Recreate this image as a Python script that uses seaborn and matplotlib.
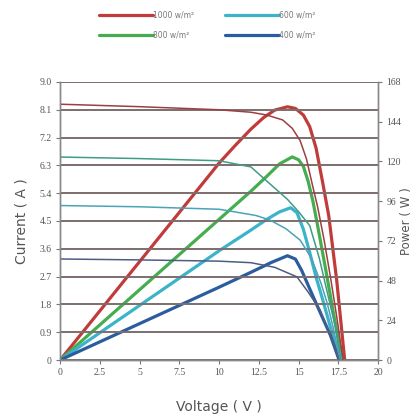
import numpy as np
import pandas as pd
import matplotlib
matplotlib.use("Agg")
import matplotlib.pyplot as plt
from matplotlib.lines import Line2D
import seaborn as sns

# Irradiance levels
levels = ["1000 w/m²", "800 w/m²", "600 w/m²", "400 w/m²"]

# I-V curves (left axis, A)
v_i_1000 = [0, 5, 10, 12, 13, 14, 14.6, 15.1, 15.5, 15.9, 16.2, 16.6, 17.0, 17.4, 17.8]
i_1000 = [8.28, 8.2, 8.1, 8.02, 7.93, 7.77, 7.5, 7.1, 6.5, 5.6, 4.95, 3.9, 2.7, 1.4, 0]
v_i_800 = [0, 5, 10, 12, 13.2, 14.3, 15.0, 15.7, 16.3, 16.8, 17.3, 17.65]
i_800 = [6.57, 6.52, 6.45, 6.25, 5.7, 5.2, 4.8, 4.35, 3.3, 2.2, 1.1, 0]
v_i_600 = [0, 5, 10, 12.3, 13.2, 14.2, 15.1, 15.8, 16.4, 16.8, 17.2, 17.6]
i_600 = [5.0, 4.96, 4.88, 4.68, 4.53, 4.25, 3.88, 3.3, 2.5, 1.84, 1.0, 0]
v_i_400 = [0, 5, 10, 12, 13.5, 14.9, 15.6, 16.35, 17.0, 17.55]
i_400 = [3.27, 3.24, 3.2, 3.15, 3.0, 2.69, 2.2, 1.62, 0.8, 0]

# P-V curves (right axis, W)
v_p_1000 = [0, 5, 10, 11, 12, 12.8, 13.5, 14.3, 14.8, 15.3, 15.7, 16.1, 16.5, 16.9, 17.4, 17.9]
p_1000 = [0, 59.5, 119, 129.5, 139.5, 146.5, 151, 153, 152, 148, 141, 128, 108, 87, 48, 0]
v_p_800 = [0, 5, 10, 12, 13.0, 13.8, 14.6, 15.0, 15.3, 15.6, 15.9, 16.2, 16.7, 17.2, 17.75]
p_800 = [0, 42.5, 85, 102, 111, 118.5, 122.7, 121, 117, 108, 96, 81, 55, 28, 0]
v_p_600 = [0, 5, 10, 12, 13.0, 13.8, 14.5, 14.9, 15.3, 15.7, 16.1, 16.5, 17.0, 17.7]
p_600 = [0, 33, 66, 78.5, 85, 89.5, 92, 89, 79, 65, 50, 37, 20, 0]
v_p_400 = [0, 5, 10, 12, 13.3, 14.3, 14.8, 15.2, 15.7, 16.3, 17.0, 17.55]
p_400 = [0, 22, 44, 53, 59, 63, 61, 54, 43, 30, 15, 0]

x_ticks = [0, 2.5, 5, 7.5, 10, 12.5, 15, 17.5, 20]
x_labels = ["0", "2.5", "5", "7.5", "10", "12.5", "15", "17.5", "20"]
i_ticks = [0, 0.9, 1.8, 2.7, 3.6, 4.5, 5.4, 6.3, 7.2, 8.1, 9.0]
i_labels = ["0", "0.9", "1.8", "2.7", "3.6", "4.5", "5.4", "6.3", "7.2", "8.1", "9.0"]
p_ticks = [0, 24, 48, 72, 96, 120, 144, 168]

p_colors = ["#c23b3b", "#45ad4f", "#3bb3c9", "#2b5d9e"]
i_colors = ["#9c3f42", "#3f9c86", "#4aa3b8", "#4d5d82"]

iv = pd.concat([
    pd.DataFrame({"V": v, "I": i, "level": lv})
    for v, i, lv in zip([v_i_1000, v_i_800, v_i_600, v_i_400],
                        [i_1000, i_800, i_600, i_400], levels)
])
pv = pd.concat([
    pd.DataFrame({"V": v, "P": p, "level": lv})
    for v, p, lv in zip([v_p_1000, v_p_800, v_p_600, v_p_400],
                        [p_1000, p_800, p_600, p_400], levels)
])

sns.set_style("white")
fig = plt.figure(figsize=(4.15, 4.15), dpi=100)
ax = fig.add_axes([0.145, 0.1325, 0.766, 0.67])
ax2 = ax.twinx()

sns.lineplot(data=iv, x="V", y="I", hue="level", palette=i_colors,
             sort=False, linewidth=1.1, legend=False, ax=ax)
sns.lineplot(data=pv, x="V", y="P", hue="level", palette=p_colors,
             sort=False, linewidth=2.3, legend=False, ax=ax2)

grid_col = "#7d6e6e"
ax.set_xlim(0, 20)
ax.set_ylim(0, 9.0)
ax2.set_ylim(0, 168)
ax.set_xticks(x_ticks)
ax.set_xticklabels(x_labels)
ax.set_yticks(i_ticks)
ax.set_yticklabels(i_labels)
ax2.set_yticks(p_ticks)
for y in i_ticks:
    ax.axhline(y, color=grid_col, lw=1.4, zorder=0)

for a in (ax, ax2):
    a.tick_params(length=3, width=0.8, color="#777777", pad=3)
    for lab in a.get_xticklabels() + a.get_yticklabels():
        lab.set_fontproperties("Liberation Serif")
        lab.set_fontsize(7)
        lab.set_color("#555555")
    for s in a.spines.values():
        s.set_color("#888888")
        s.set_linewidth(1.0)
ax.tick_params(axis="both", left=True, bottom=True)
ax2.tick_params(axis="y", right=True)
ax2.spines["top"].set_visible(False)
ax.spines["top"].set_visible(False)
ax.set_zorder(ax2.get_zorder() + 1)
ax.patch.set_visible(False)

ax.set_xlabel("Voltage ( V )", fontsize=10, color="#555555", labelpad=16)
ax.set_ylabel("Current ( A )", fontsize=10, color="#555555", labelpad=8)
ax2.set_ylabel("Power ( W )", fontsize=8.5, color="#555555")
ax2.yaxis.set_label_coords(1.07, 0.5)

handles = [Line2D([], [], color=c, lw=2.3) for c in p_colors]
fig.legend(handles, levels, ncol=2, loc="center", bbox_to_anchor=(0.5, 0.94),
           frameon=False, fontsize=5.5, handlelength=7, columnspacing=4,
           labelspacing=1.4, handletextpad=0.1, labelcolor="#777777")

fig.savefig("out.png", dpi=100)
